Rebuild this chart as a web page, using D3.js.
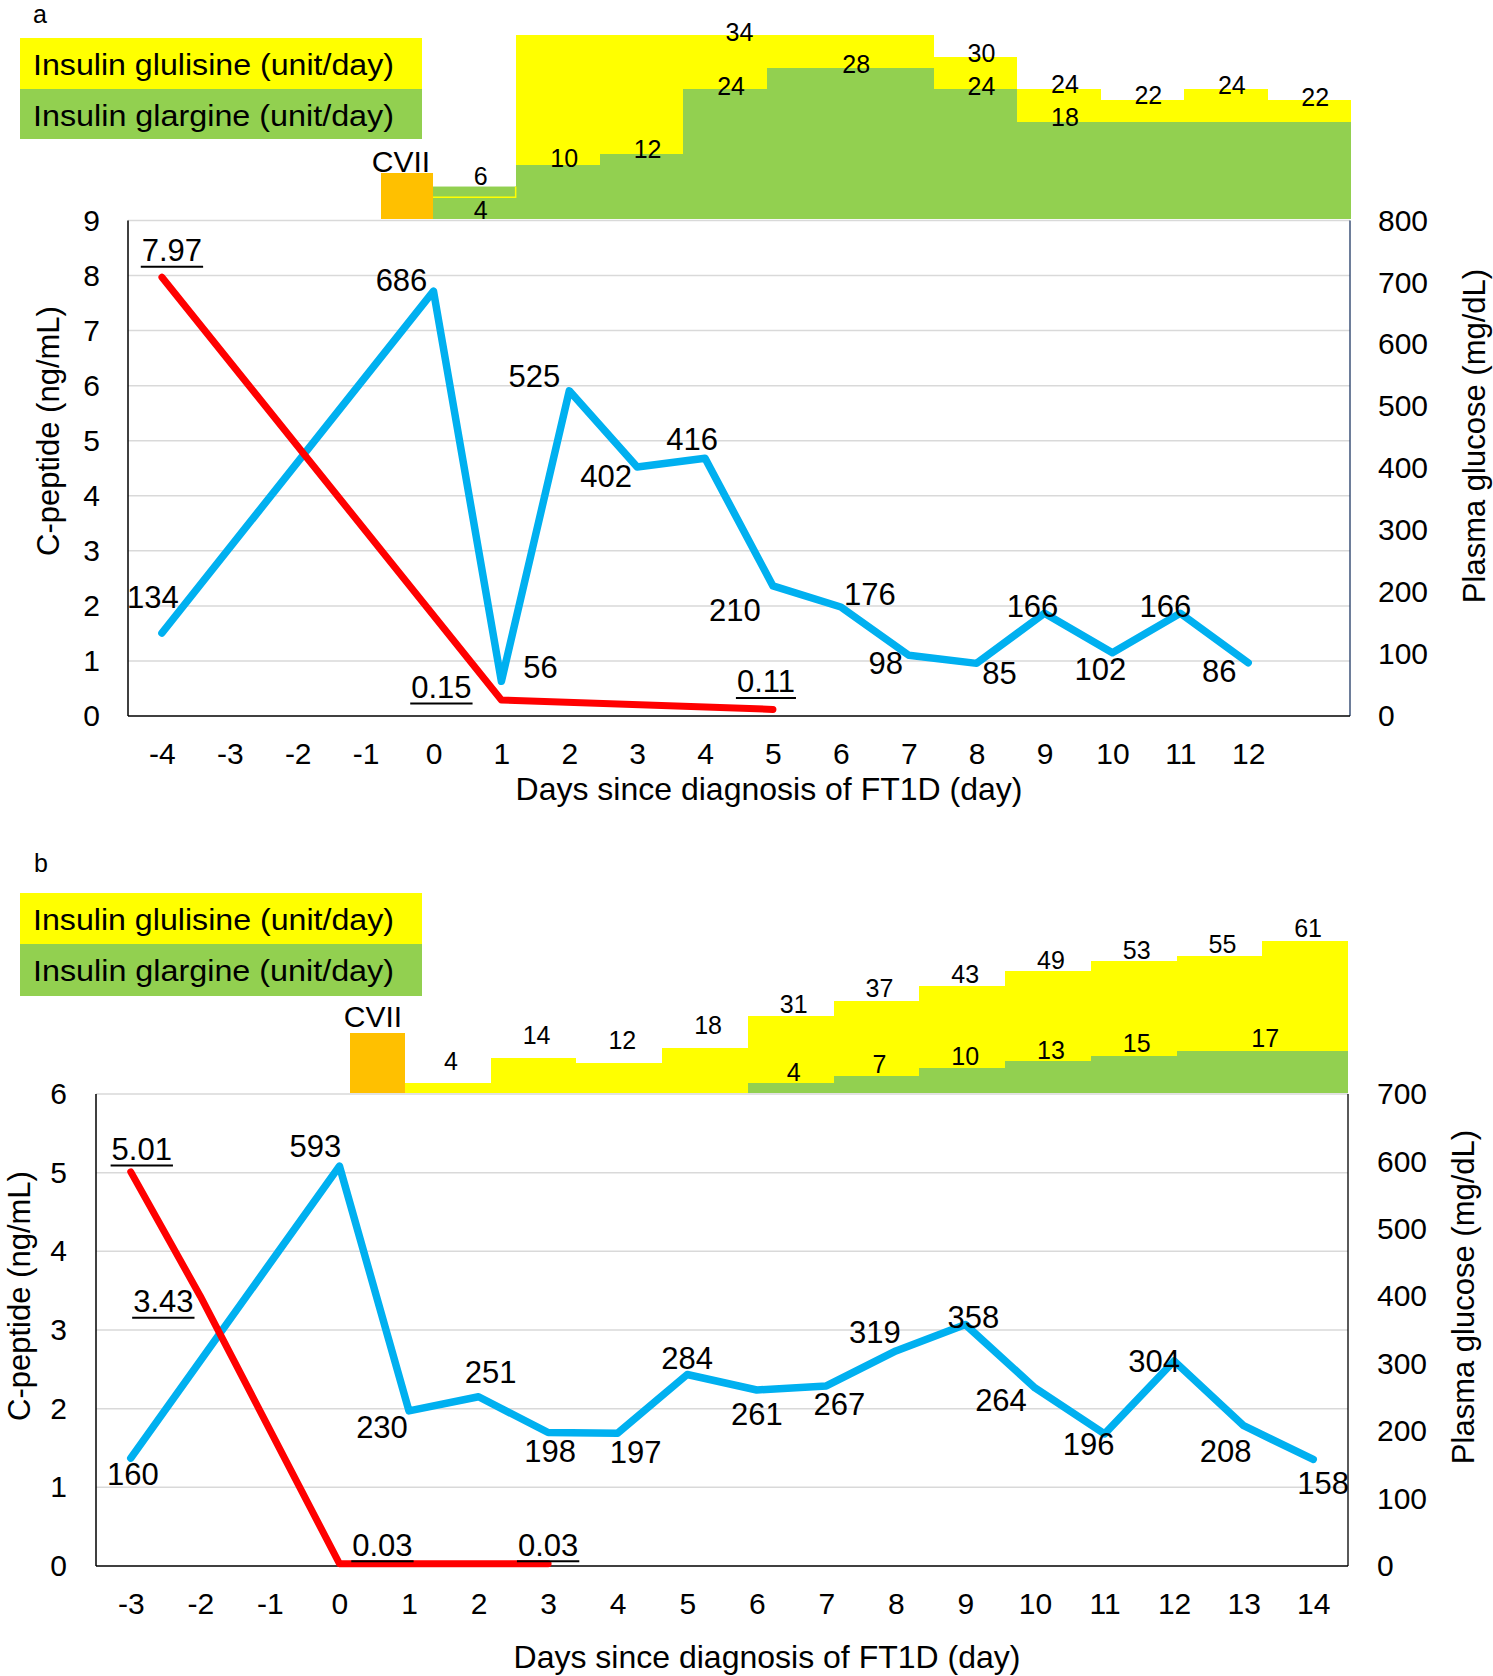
<!DOCTYPE html>
<html><head><meta charset="utf-8">
<script src="https://cdn.jsdelivr.net/npm/d3@7"></script>
<style>
html,body{margin:0;padding:0;background:#fff;}
svg{display:block;}
</style></head><body>
<svg id="chart" width="1493" height="1676"></svg>
<script>
// ================= DATA : panel a =================
const categoriesA = [-4,-3,-2,-1,0,1,2,3,4,5,6,7,8,9,10,11,12,13];
const xTickLabelsA = [-4,-3,-2,-1,0,1,2,3,4,5,6,7,8,9,10,11,12];
const leftTicksA = [0,1,2,3,4,5,6,7,8,9];
const rightTicksA = [0,100,200,300,400,500,600,700,800];
const glucoseDaysA = [-4,0,1,2,3,4,5,6,7,8,9,10,11,12];
const glucoseA = [134,686,56,525,402,416,210,176,98,85,166,102,166,86];
const cpeptideDaysA = [-4,1,5];
const cpeptideA = [7.97,0.29,0.12];
const cpeptideLabelsA = ["7.97","0.15","0.11"];
const glargineA = [4,10,12,24,28,28,24,18,18,18,18];       // green steps (unit/day)
const insulinTopA = [6,34,34,34,34,34,30,24,22,24,22];     // top of yellow steps
const insetLabelTextA = ["6","4","10","12","34","24","28","30","24","24","18","22","24","22"];
const insetLabelStepA = [0.5,0.5,1.5,2.5,3.6,3.5,5,6.5,6.5,7.5,7.5,8.5,9.5,10.5];
const insetLabelValA  = [6,0,10,12,34,24,28,30,24,24,18,22,24,22];

// ================= DATA : panel b =================
const categoriesB = [-3,-2,-1,0,1,2,3,4,5,6,7,8,9,10,11,12,13,14];
const xTickLabelsB = [-3,-2,-1,0,1,2,3,4,5,6,7,8,9,10,11,12,13,14];
const leftTicksB = [0,1,2,3,4,5,6];
const rightTicksB = [0,100,200,300,400,500,600,700];
const glucoseDaysB = [-3,0,1,2,3,4,5,6,7,8,9,10,11,12,13,14];
const glucoseB = [160,593,230,251,198,197,284,261,267,319,358,264,196,304,208,158];
const cpeptideDaysB = [-3,-2,0,3];
const cpeptideB = [5.01,3.43,0.03,0.03];
const cpeptideLabelsB = ["5.01","3.43","0.03","0.03"];
const glargineB = [0,0,0,0,4,7,10,13,15,17,17];
const insulinTopB = [4,14,12,18,31,37,43,49,53,55,61];
const insetLabelTextB = ["4","14","12","18","31","37","43","49","53","55","61","4","7","10","13","15","17"];
const insetLabelStepB = [0.5,1.5,2.5,3.5,4.5,5.5,6.5,7.5,8.5,9.5,10.5,4.5,5.5,6.5,7.5,8.5,10];
const insetLabelValB  = [4,14,12,18,31,37,43,49,53,55,61,4,7,10,13,15,17];

// ================= LAYOUT (positions / styles) =================
const FONT = '"Liberation Sans", Arial, Helvetica, sans-serif';
const C = {blue:"#00B0F0", red:"#FF0000", yellow:"#FFFF00", green:"#92D050", orange:"#FFC000", grid:"#D9D9D9"};

const glucoseLabelOffA = [[-9,-25],[-32,0],[39,-3],[-35,-4],[-31,20],[-13,-8],[-38,35],[29,-2],[-23,19],[23,21],[-12,4],[-12,27],[-15,4],[-29,19]];
const cpeptideLabelOffA = [[10,-16],[-60,-2],[-7,-17]];
const insetLabelDyA = [-1.5,-0.5,2,4,6,6,5.5,5,6,4,4.5,4,5,6];

const glucoseLabelOffB = [[2,27],[-24,-9],[-27,27],[12,-14],[2,30],[18,30],[0,-6],[0,35],[13,29],[-21,-8],[8,3],[-34,23],[-16,21],[-20,11],[-18,36],[10,35]];
const cpeptideLabelOffB = [[11,-12],[-37,16],[43,-8],[0,-8]];
const insetLabelDyB = [-13,-14,-14,-14,-2.5,-3.5,-2.5,-1.5,-1.5,-2.5,-3.5,-2,-2.5,-3,-1.5,-3.5,-3.5];

const panels = [
 {letter:"a", letterPos:[33,23], legendY:38, legendH:[51,50],
  plot:{l:128,r:1350,t:220.5,b:716}, inset:{l:433,r:1351,b:219,unit:5.41,dx:6},
  cvii:{l:381,r:433,t:173,b:219,tx:401,ty:172},
  leftPad:28, rightPad:28, xPad:27, leftTitle:[48,431], rightTitle:[1474,436], xTitle:[769,800],
  rightAxisColor:"#1F3864",
  cats:categoriesA, xticks:xTickLabelsA, lt:leftTicksA, rt:rightTicksA,
  gDays:glucoseDaysA, g:glucoseA, gOff:glucoseLabelOffA,
  cDays:cpeptideDaysA, c:cpeptideA, cLab:cpeptideLabelsA, cOff:cpeptideLabelOffA,
  glar:glargineA, top:insulinTopA, ilT:insetLabelTextA, ilS:insetLabelStepA, ilV:insetLabelValA, ilDy:insetLabelDyA,
  firstStepGreen:true},
 {letter:"b", letterPos:[34,872], legendY:893, legendH:[51,52],
  plot:{l:96,r:1348,t:1094,b:1566}, inset:{l:405,r:1348,b:1093,unit:2.5,dx:3},
  cvii:{l:350,r:405,t:1033,b:1093,tx:373,ty:1027},
  leftPad:29, rightPad:29, xPad:27, leftTitle:[19,1296], rightTitle:[1463,1297], xTitle:[767,1668],
  rightAxisColor:"#000",
  cats:categoriesB, xticks:xTickLabelsB, lt:leftTicksB, rt:rightTicksB,
  gDays:glucoseDaysB, g:glucoseB, gOff:glucoseLabelOffB,
  cDays:cpeptideDaysB, c:cpeptideB, cLab:cpeptideLabelsB, cOff:cpeptideLabelOffB,
  glar:glargineB, top:insulinTopB, ilT:insetLabelTextB, ilS:insetLabelStepB, ilV:insetLabelValB, ilDy:insetLabelDyB,
  firstStepGreen:false}
];

const svg = d3.select("#chart").style("font-family", FONT);
svg.append("rect").attr("width",1493).attr("height",1676).attr("fill","#fff");

panels.forEach(P => {
  const g = svg.append("g");
  const p = P.plot;

  // panel letter
  g.append("text").attr("x",P.letterPos[0]).attr("y",P.letterPos[1])
    .attr("font-size",25).attr("fill","#000").text(P.letter);

  // legend
  const legItems = [["Insulin glulisine (unit/day)", C.yellow], ["Insulin glargine (unit/day)", C.green]];
  let ly = P.legendY;
  legItems.forEach((it,i) => {
    g.append("rect").attr("x",20).attr("y",ly).attr("width",402).attr("height",P.legendH[i]).attr("fill",it[1]);
    g.append("text").attr("x",33).attr("y",ly+37).attr("font-size",30).attr("fill","#000")
      .attr("textLength",361).attr("lengthAdjust","spacingAndGlyphs").text(it[0]);
    ly += P.legendH[i];
  });

  // ---- inset (insulin steps) ----
  const n = P.top.length;
  const I = P.inset;
  const xi = d3.scaleLinear().domain([0,n]).range([I.l, I.r]);
  const yi = d3.scaleLinear().domain([0,1]).range([I.b, I.b - I.unit]);
  const ext = arr => arr.concat([arr[arr.length-1]]);
  const area = d3.area().x((d,i)=>xi(i)).y0(yi(0)).y1(d=>yi(d)).curve(d3.curveStepAfter);
  g.append("path").datum(ext(P.top)).attr("d",area).attr("fill",C.yellow).attr("shape-rendering","crispEdges");
  g.append("path").datum(ext(P.glar)).attr("d",area).attr("fill",C.green).attr("shape-rendering","crispEdges");
  if (P.firstStepGreen) {
    g.append("rect").attr("x",xi(0)).attr("width",xi(1)-xi(0))
      .attr("y",yi(P.top[0])).attr("height",yi(P.glar[0])-yi(P.top[0])).attr("fill",C.green);
    g.append("path").attr("d",`M${xi(0)},${yi(P.glar[0])}H${xi(1)-0.8}V${yi(P.top[0])}`)
      .attr("fill","none").attr("stroke",C.yellow).attr("stroke-width",1.5);
  }
  // CVII
  const cv = P.cvii;
  g.append("rect").attr("x",cv.l).attr("y",cv.t).attr("width",cv.r-cv.l).attr("height",cv.b-cv.t).attr("fill",C.orange);
  g.append("text").attr("x",cv.tx).attr("y",cv.ty).attr("text-anchor","middle").attr("font-size",30).attr("fill","#000").text("CVII");
  // inset labels
  P.ilT.forEach((t,i) => {
    g.append("text").attr("x",xi(P.ilS[i])+I.dx).attr("y",yi(P.ilV[i])+P.ilDy[i])
      .attr("text-anchor","middle").attr("font-size",25).attr("fill","#000").text(t);
  });

  // ---- main plot ----
  const x = d3.scalePoint().domain(P.cats).range([p.l,p.r]).padding(0.5);
  const yL = d3.scaleLinear().domain([0, P.lt[P.lt.length-1]]).range([p.b,p.t]);
  const yR = d3.scaleLinear().domain([0, P.rt[P.rt.length-1]]).range([p.b,p.t]);

  // gridlines
  g.append("g").selectAll("line").data(P.lt.filter(v=>v>0)).join("line")
    .attr("x1",p.l).attr("x2",p.r).attr("y1",d=>yL(d)).attr("y2",d=>yL(d))
    .attr("stroke",C.grid).attr("stroke-width",1.5);

  // axes (ticks via d3 axis generators)
  const styleAxis = sel => {
    sel.select(".domain").remove();
    sel.selectAll(".tick line").remove();
    sel.attr("font-size",null).attr("font-family",null);
    sel.selectAll("text").attr("font-size",30).attr("fill","#000");
  };
  g.append("g").attr("transform",`translate(${p.l},0)`)
    .call(d3.axisLeft(yL).tickValues(P.lt).tickSize(0).tickPadding(P.leftPad).tickFormat(d3.format("d")))
    .call(styleAxis);
  g.append("g").attr("transform",`translate(${p.r},0)`)
    .call(d3.axisRight(yR).tickValues(P.rt).tickSize(0).tickPadding(P.rightPad).tickFormat(d3.format("d")))
    .call(styleAxis);
  g.append("g").attr("transform",`translate(0,${p.b})`)
    .call(d3.axisBottom(x).tickValues(P.xticks).tickSize(0).tickPadding(P.xPad))
    .call(styleAxis);

  // axis lines
  g.append("line").attr("x1",p.l).attr("x2",p.l).attr("y1",p.t).attr("y2",p.b).attr("stroke","#000").attr("stroke-width",1.5);
  g.append("line").attr("x1",p.r).attr("x2",p.r).attr("y1",p.t).attr("y2",p.b).attr("stroke",P.rightAxisColor).attr("stroke-width",1.3);
  g.append("line").attr("x1",p.l).attr("x2",p.r).attr("y1",p.b).attr("y2",p.b).attr("stroke","#000").attr("stroke-width",1.5);

  // titles
  g.append("text").attr("transform",`translate(${P.leftTitle[0]},${P.leftTitle[1]}) rotate(-90)`)
    .attr("text-anchor","middle").attr("dominant-baseline","central").attr("font-size",31).attr("fill","#000").text("C-peptide (ng/mL)");
  g.append("text").attr("transform",`translate(${P.rightTitle[0]},${P.rightTitle[1]}) rotate(-90)`)
    .attr("text-anchor","middle").attr("dominant-baseline","central").attr("font-size",31).attr("fill","#000").text("Plasma glucose (mg/dL)");
  g.append("text").attr("x",P.xTitle[0]).attr("y",P.xTitle[1]).attr("text-anchor","middle")
    .attr("font-size",32).attr("fill","#000").text("Days since diagnosis of FT1D (day)");

  // lines
  const gPts = P.gDays.map((d,i)=>[x(d), yR(P.g[i])]);
  const cPts = P.cDays.map((d,i)=>[x(d), yL(P.c[i])]);
  const line = d3.line();
  g.append("path").attr("d",line(gPts)).attr("fill","none").attr("stroke",C.blue)
    .attr("stroke-width",7.5).attr("stroke-linejoin","round").attr("stroke-linecap","round");
  g.append("path").attr("d",line(cPts)).attr("fill","none").attr("stroke",C.red)
    .attr("stroke-width",7).attr("stroke-linejoin","round").attr("stroke-linecap","round");

  // glucose labels
  gPts.forEach((pt,i) => {
    g.append("text").attr("x",pt[0]+P.gOff[i][0]).attr("y",pt[1]+P.gOff[i][1])
      .attr("text-anchor","middle").attr("font-size",31).attr("fill","#000").text(P.g[i]);
  });
  // c-peptide labels (underlined)
  cPts.forEach((pt,i) => {
    const tx = pt[0]+P.cOff[i][0], ty = pt[1]+P.cOff[i][1];
    const t = g.append("text").attr("x",tx).attr("y",ty)
      .attr("text-anchor","middle").attr("font-size",31).attr("fill","#000").text(P.cLab[i]);
    const w = t.node().getComputedTextLength();
    g.append("line").attr("x1",tx-w/2-1).attr("x2",tx+w/2+1).attr("y1",ty+5.5).attr("y2",ty+5.5)
      .attr("stroke","#000").attr("stroke-width",2);
  });
});
</script>
</body></html>
